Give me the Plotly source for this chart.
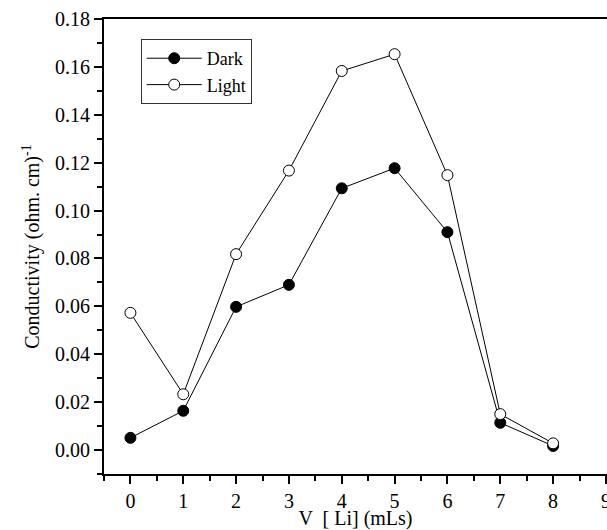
import plotly.graph_objects as go

volume = [0, 1, 2, 3, 4, 5, 6, 7, 8]
dark = [0.0051, 0.0164, 0.0598, 0.0690, 0.1093, 0.1177, 0.0910, 0.0114, 0.0017]
light = [0.0573, 0.0233, 0.0818, 0.1167, 0.1583, 0.1653, 0.1148, 0.0150, 0.0028]

FONT = "Liberation Serif"
TICKFONT = "Times New Roman"

fig = go.Figure()
fig.add_trace(go.Scatter(
    x=volume, y=dark, name="Dark", mode="lines+markers",
    line=dict(color="black", width=1),
    marker=dict(symbol="circle", size=11, color="black", line=dict(color="black", width=1)),
))
fig.add_trace(go.Scatter(
    x=volume, y=light, name="Light", mode="lines+markers",
    line=dict(color="black", width=1),
    marker=dict(symbol="circle", size=11, color="white", line=dict(color="black", width=1)),
))

fig.update_layout(
    width=607, height=530,
    margin=dict(l=104, r=0, t=19, b=56, autoexpand=False),
    paper_bgcolor="white", plot_bgcolor="white",
    font=dict(family=FONT, size=20, color="black"),
    showlegend=True,
    legend=dict(
        x=0.073, y=0.956, xanchor="left", yanchor="top",
        bgcolor="white", bordercolor="#333333", borderwidth=1,
        font=dict(family=FONT, size=18, color="black"),
        tracegroupgap=0, itemwidth=55,
    ),
    xaxis=dict(
        range=[-0.5, 9.02], tickmode="linear", tick0=0, dtick=1,
        ticks="outside", ticklen=8, tickwidth=1.5, tickcolor="black",
        minor=dict(dtick=0.5, tick0=0, ticks="outside", ticklen=5, tickwidth=1.5, tickcolor="black"),
        showline=True, linewidth=2, linecolor="black", mirror=True,
        showgrid=False, zeroline=False, automargin=False,
        ticklabeloverflow="allow",
        tickfont=dict(family=TICKFONT, size=20, color="black"),
        title=dict(text="V  [ Li] (mLs)", font=dict(family=FONT, size=20, color="black"), standoff=0),
    ),
    yaxis=dict(
        range=[-0.01, 0.18], tickmode="linear", tick0=0, dtick=0.02, tickformat=".2f",
        ticks="outside", ticklen=8, tickwidth=1.5, tickcolor="black",
        minor=dict(dtick=0.01, tick0=0, ticks="outside", ticklen=5, tickwidth=1.5, tickcolor="black"),
        showline=True, linewidth=2, linecolor="black", mirror=False,
        showgrid=False, zeroline=False, automargin=False,
        tickfont=dict(family=TICKFONT, size=20, color="black"),
        title=dict(text="Conductivity (ohm. cm)<sup>-1</sup>", font=dict(family=FONT, size=20, color="black"), standoff=10),
    ),
)

fig.write_html(
    "out.html",
    config={"displayModeBar": False},
    post_script="document.body.style.margin='0';document.body.style.overflow='hidden';",
)
